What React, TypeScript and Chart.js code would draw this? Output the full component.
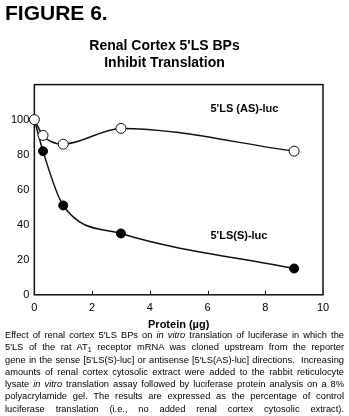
import React, { useEffect, useRef } from "react";
import { Chart, registerables } from "chart.js";

Chart.register(...registerables);

const FONT = "'Liberation Sans', Arial, Helvetica, sans-serif";

const titleLines = ["Renal Cortex 5'LS BPs", "Inhibit Translation"];
const xAxisTitle = "Protein (\u00b5g)";
const proteinAS = [0, 0.3, 1, 3, 9];
const valuesAS = [100, 91, 86, 95, 82];
const proteinS = [0, 0.3, 1, 3, 9];
const valuesS = [100, 82, 51, 35, 15];
const labelAS = "5'LS (AS)-luc";
const labelS = "5'LS(S)-luc";
const labelASPos = [6.1, 106];
const labelSPos = [6.1, 33.5];
const xTicksInner = [2, 4, 6, 8];

const framePlugin = {
  id: "framePlugin",
  beforeDatasetsDraw(chart: any) {
    const { ctx, chartArea } = chart;
    const xs = chart.scales.x;
    ctx.save();
    ctx.strokeStyle = "#111";
    ctx.lineWidth = 1.5;
    ctx.strokeRect(chartArea.left, chartArea.top, chartArea.right - chartArea.left, chartArea.bottom - chartArea.top);
    ctx.lineWidth = 1;
    for (const t of xTicksInner) {
      const px = Math.round(xs.getPixelForValue(t)) + 0.5;
      ctx.beginPath();
      ctx.moveTo(px, chartArea.bottom);
      ctx.lineTo(px, chartArea.bottom - 4);
      ctx.stroke();
    }
    ctx.restore();
  },
  afterDatasetsDraw(chart: any) {
    const { ctx, chartArea } = chart;
    const xs = chart.scales.x;
    const ys = chart.scales.y;
    ctx.save();
    ctx.fillStyle = "#000";
    ctx.font = `bold 11px ${FONT}`;
    ctx.textAlign = "left";
    ctx.textBaseline = "middle";
    ctx.fillText(labelAS, xs.getPixelForValue(labelASPos[0]), ys.getPixelForValue(labelASPos[1]));
    ctx.fillText(labelS, xs.getPixelForValue(labelSPos[0]), ys.getPixelForValue(labelSPos[1]));
    ctx.textAlign = "center";
    ctx.fillText(xAxisTitle, (chartArea.left + chartArea.right) / 2, chartArea.bottom + 30);
    ctx.restore();
  },
};

function ChartBox() {
  const ref = useRef<HTMLCanvasElement | null>(null);
  useEffect(() => {
    if (!ref.current) return;
    const chart = new Chart(ref.current, {
      type: "line",
      data: {
        datasets: [
          {
            label: labelAS,
            data: proteinAS.map((x, i) => ({ x, y: valuesAS[i] })),
            borderColor: "#111",
            borderWidth: 1.5,
            pointRadius: 5,
            pointBorderWidth: 1,
            pointBackgroundColor: "#fff",
            pointBorderColor: "#111",
            cubicInterpolationMode: "monotone",
            clip: false,
          } as any,
          {
            label: labelS,
            data: proteinS.map((x, i) => ({ x, y: valuesS[i] })),
            borderColor: "#111",
            borderWidth: 1.5,
            pointRadius: 4.5,
            pointBorderWidth: 1,
            pointBackgroundColor: "#000",
            pointBorderColor: "#000",
            cubicInterpolationMode: "monotone",
            clip: false,
          } as any,
        ],
      },
      options: {
        responsive: false,
        animation: false,
        devicePixelRatio: 1,
        layout: { padding: { left: 6, right: 26, top: 38, bottom: 18 } },
        plugins: {
          legend: { display: false },
          tooltip: { enabled: false },
          title: {
            display: true,
            text: titleLines,
            color: "#000",
            font: { family: FONT, size: 14, weight: "bold", lineHeight: 1.2 },
            padding: { top: 0, bottom: 13 },
          },
        },
        scales: {
          x: {
            type: "linear",
            min: 0,
            max: 10,
            ticks: { stepSize: 2, color: "#000", font: { family: FONT, size: 11 }, padding: 7, maxRotation: 0 },
            grid: { display: false, drawTicks: false },
            border: { display: false },
          },
          y: {
            min: 0,
            max: 120,
            ticks: {
              stepSize: 20,
              color: "#000",
              font: { family: FONT, size: 11 },
              padding: 5,
              callback: (v: any) => (v === 120 ? "" : String(v)),
            },
            grid: { display: false, drawTicks: false },
            border: { display: false },
          },
        },
      },
      plugins: [framePlugin],
    });
    return () => chart.destroy();
  }, []);
  return <canvas ref={ref} width={349} height={340} style={{ position: "absolute", left: 0, top: 0, width: 349, height: 340 }} />;
}

const captionLines: React.ReactNode[] = [
  <>Effect of renal cortex 5'LS BPs on <i>in vitro</i> translation of luciferase in which the</>,
  <>5'LS of the rat AT<sub style={{ fontSize: "7px", verticalAlign: "-2px", lineHeight: 0 }}>1</sub> receptor mRNA was cloned upstream from the reporter</>,
  <>gene in the sense [5'LS(S)-luc] or antisense [5'LS(AS)-luc] directions.&nbsp; Increasing</>,
  <>amounts of renal cortex cytosolic extract were added to the rabbit reticulocyte</>,
  <>lysate <i>in vitro</i> translation assay followed by luciferase protein analysis on a 8%</>,
  <>polyacrylamide gel. The results are expressed as the percentage of control</>,
  <>luciferase translation (i.e., no added renal cortex cytosolic extract).</>,
];

export default function App() {
  return (
    <div style={{ position: "absolute", left: 0, top: 0, width: 349, height: 416, background: "#fff", overflow: "hidden", fontFamily: FONT, color: "#000" }}>
      <ChartBox />
      <div style={{ position: "absolute", left: 5, top: 1, fontSize: 21, fontWeight: "bold", lineHeight: "24px" }}>FIGURE 6.</div>
      <div style={{ position: "absolute", left: 5, top: 329, width: 339, fontSize: 9.3, lineHeight: "12.3px" }}>
        {captionLines.map((l, i) => (
          <div key={i} style={{ textAlign: "justify", textAlignLast: "justify", whiteSpace: "nowrap" }}>{l}</div>
        ))}
      </div>
    </div>
  );
}
